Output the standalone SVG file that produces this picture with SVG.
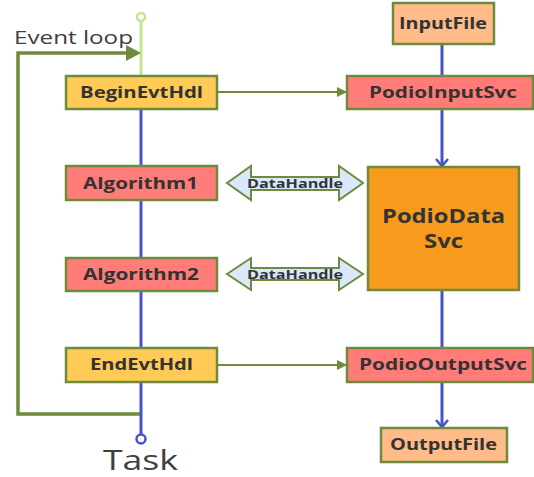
<svg xmlns="http://www.w3.org/2000/svg" width="534" height="477" viewBox="0 0 534 477">
<defs>
<style>
.box{stroke:#6F8A3C;stroke-width:2.5}
.y{fill:#FFCA55}
.r{fill:#FF7C78}
.p{fill:#FFBB88}
.o{fill:#F89B1C}
.t{font-family:"Open Sans","Noto Sans",sans-serif;font-weight:bold;font-size:16px;fill:#333;text-anchor:middle}
.big{font-size:19px}
.dh{font-family:"Open Sans","Noto Sans",sans-serif;font-weight:bold;font-size:13px;fill:#333;text-anchor:middle}
.blue{stroke:#4455CC;stroke-width:3;fill:none}
.gl{stroke:#6F8A3C;stroke-width:2;fill:none}
</style>
<marker id="ga" markerWidth="10" markerHeight="10" refX="9" refY="5" orient="auto" markerUnits="userSpaceOnUse" viewBox="0 0 10 10"><path d="M0,0 L10,5 L0,10 z" fill="#6F8A3C"/></marker>
<marker id="ba" markerWidth="14" markerHeight="14" refX="7" refY="12" orient="0" markerUnits="userSpaceOnUse" viewBox="0 0 14 14"><path d="M1,5 L7,12 L13,5" fill="none" stroke="#4455CC" stroke-width="2.5"/></marker>
</defs>
<rect width="534" height="477" fill="#fff"/>
<g id="connectors">
<line x1="141" y1="21" x2="141" y2="76" stroke="#C3E58C" stroke-width="3"/>
<circle cx="141" cy="17" r="4" fill="#fff" stroke="#C3E58C" stroke-width="2.5"/>
<path d="M141,414 L18,414 L18,53 L128,53" stroke="#6F8A3C" stroke-width="3.5" fill="none"/>
<path d="M126,45 L141,53 L126,61 z" fill="#6F8A3C"/>
<line class="blue" x1="141" y1="109" x2="141" y2="435"/>
<circle cx="141" cy="439" r="4.5" fill="#fff" stroke="#4455CC" stroke-width="2.5"/>
<line class="gl" x1="217" y1="92" x2="346" y2="92" marker-end="url(#ga)"/>
<line class="gl" x1="217" y1="365" x2="346" y2="365" marker-end="url(#ga)"/>
<line class="blue" x1="442" y1="44" x2="442" y2="76"/>
<line class="blue" x1="442" y1="109" x2="442" y2="166" marker-end="url(#ba)"/>
<line class="blue" x1="442" y1="290" x2="442" y2="348"/>
<line class="blue" x1="442" y1="382" x2="442" y2="427" marker-end="url(#ba)"/>
<g id="dh1">
<path d="M227,183 L251,166 L251,177 L339,177 L339,166 L363,183 L339,200 L339,190 L251,190 L251,200 z" fill="#DAE8FC" stroke="#6F8A3C" stroke-width="2"/>
<text class="dh" x="295" y="188" textLength="96" lengthAdjust="spacingAndGlyphs">DataHandle</text>
</g>
<g id="dh2">
<path d="M227,274 L251,258 L251,268 L339,268 L339,258 L363,274 L339,290 L339,280 L251,280 L251,290 z" fill="#DAE8FC" stroke="#6F8A3C" stroke-width="2"/>
<text class="dh" x="295" y="279" textLength="96" lengthAdjust="spacingAndGlyphs">DataHandle</text>
</g>
</g>
<text x="14" y="44" font-family="'Open Sans','Noto Sans',sans-serif" font-size="18" fill="#404040" textLength="119" lengthAdjust="spacingAndGlyphs">Event loop</text>
<text x="103" y="470" font-family="'Open Sans','Noto Sans',sans-serif" font-size="28" fill="#404040" textLength="75" lengthAdjust="spacingAndGlyphs">Task</text>
<g id="BeginEvtHdl"><rect class="box y" x="66" y="76" width="151" height="33"/><text class="t" x="141.5" y="98" textLength="123" lengthAdjust="spacingAndGlyphs">BeginEvtHdl</text></g>
<g id="Algorithm1"><rect class="box r" x="66" y="166" width="151" height="34"/><text class="t" x="140.5" y="189" textLength="115" lengthAdjust="spacingAndGlyphs">Algorithm1</text></g>
<g id="Algorithm2"><rect class="box r" x="66" y="258" width="151" height="33"/><text class="t" x="141" y="280" textLength="116" lengthAdjust="spacingAndGlyphs">Algorithm2</text></g>
<g id="EndEvtHdl"><rect class="box y" x="66" y="348" width="151" height="34"/><text class="t" x="141.5" y="370" textLength="103" lengthAdjust="spacingAndGlyphs">EndEvtHdl</text></g>
<g id="InputFile"><rect class="box p" x="393" y="3" width="101" height="41"/><text class="t" x="443" y="29" textLength="88" lengthAdjust="spacingAndGlyphs">InputFile</text></g>
<g id="PodioInputSvc"><rect class="box r" x="347" y="76" width="186" height="33"/><text class="t" x="443" y="98" textLength="148" lengthAdjust="spacingAndGlyphs">PodioInputSvc</text></g>
<g id="PodioDataSvc"><rect class="box o" x="368" y="167" width="151" height="123"/><text class="t big" x="443.5" y="223" textLength="123" lengthAdjust="spacingAndGlyphs">PodioData</text><text class="t big" x="443.5" y="248" textLength="39" lengthAdjust="spacingAndGlyphs">Svc</text></g>
<g id="PodioOutputSvc"><rect class="box r" x="347" y="348" width="186" height="34"/><text class="t" x="443" y="370" textLength="168" lengthAdjust="spacingAndGlyphs">PodioOutputSvc</text></g>
<g id="OutputFile"><rect class="box p" x="381" y="428" width="126" height="34"/><text class="t" x="443.5" y="450" textLength="107" lengthAdjust="spacingAndGlyphs">OutputFile</text></g>
</svg>
